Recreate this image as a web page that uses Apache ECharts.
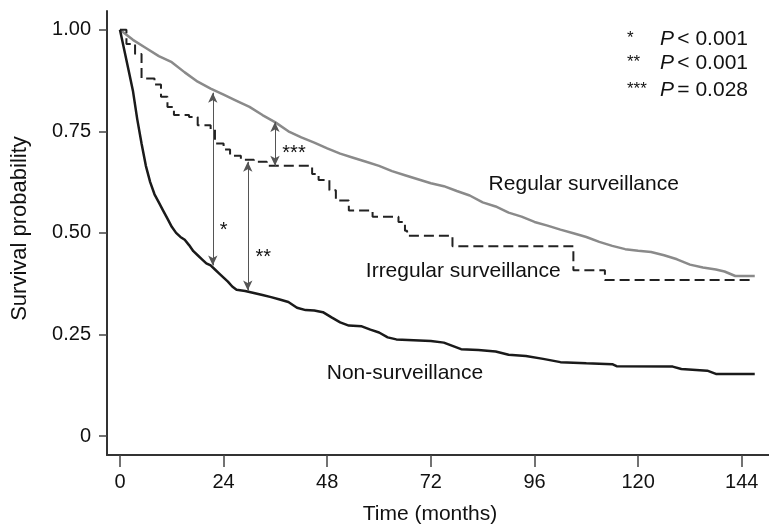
<!DOCTYPE html>
<html lang="en">
<head>
    <meta charset="UTF-8">
    <title>Survival by surveillance</title>
    <script src="https://cdn.jsdelivr.net/npm/echarts@6/dist/echarts.min.js"></script>
    <style>
        html, body { margin: 0; padding: 0; background: #fff; }
        #chart { width: 769px; height: 530px; }
    </style>
</head>
<body>
    <div id="chart"></div>
    <script>
        // x ticks (months) and y ticks
        var xTicks = [0, 24, 48, 72, 96, 120, 144];
        var yTicks = [0, 0.25, 0.5, 0.75, 1];

        // Kaplan-Meier curves: [months, survival]
        var regular = [
            [0, 1.0], [3, 0.975], [6, 0.955], [9, 0.935], [12, 0.92], [15, 0.895], [18, 0.872],
            [21, 0.855], [24, 0.84], [27, 0.825], [30, 0.81], [33, 0.79], [36, 0.772], [39, 0.75],
            [42, 0.735], [45, 0.722], [48, 0.708], [51, 0.695], [54, 0.685], [57, 0.675], [60, 0.665],
            [63, 0.652], [66, 0.642], [69, 0.632], [72, 0.622], [75, 0.615], [78, 0.603], [81, 0.592],
            [84, 0.575], [87, 0.565], [90, 0.55], [93, 0.54], [96, 0.527], [99, 0.518], [102, 0.508],
            [105, 0.499], [108, 0.49], [111, 0.478], [114, 0.468], [117, 0.46], [120, 0.456],
            [123, 0.453], [126, 0.445], [129, 0.435], [132, 0.422], [135, 0.415], [138, 0.41],
            [140, 0.405], [142.5, 0.394], [147, 0.394]
        ];
        var irregular = [
            [0, 1.0], [1.5, 0.965], [3.5, 0.94], [5, 0.88], [8, 0.865], [9.5, 0.835], [11, 0.81],
            [12.5, 0.79], [16, 0.785], [18, 0.765], [21, 0.755], [22, 0.72], [24, 0.705], [25.5, 0.69],
            [28, 0.68], [31, 0.675], [34, 0.665], [44.5, 0.645], [46, 0.63], [48.5, 0.605], [50, 0.58],
            [53, 0.555], [58.5, 0.54], [64.5, 0.527], [66, 0.505], [66.5, 0.493], [77, 0.467],
            [105, 0.408], [112.3, 0.384], [146.5, 0.384]
        ];
        var nonSurv = [
            [0, 1.0], [1, 0.95], [2, 0.9], [3, 0.85], [4, 0.78], [5, 0.72], [6, 0.665], [7, 0.625],
            [8, 0.595], [9, 0.575], [10, 0.555], [11, 0.535], [12, 0.515], [13, 0.5], [14, 0.49],
            [15, 0.483], [16, 0.47], [17, 0.455], [18, 0.445], [19, 0.435], [20, 0.425], [21, 0.42],
            [22, 0.41], [23, 0.4], [24, 0.39], [25, 0.38], [26, 0.368], [27, 0.36], [29, 0.357],
            [31, 0.352], [33, 0.347], [35, 0.342], [37, 0.336], [39, 0.33], [41, 0.316], [43, 0.31],
            [45, 0.309], [47, 0.305], [49, 0.292], [51, 0.28], [53, 0.272], [56, 0.27], [58, 0.262],
            [60, 0.255], [62, 0.243], [64, 0.238], [68, 0.236], [72, 0.234], [75, 0.23], [77, 0.222],
            [79, 0.214], [83, 0.212], [87, 0.208], [90, 0.2], [94, 0.197], [98, 0.19], [102, 0.182],
            [108, 0.179], [114, 0.177], [115, 0.172], [128, 0.171], [130, 0.165], [136, 0.161],
            [138, 0.153], [147, 0.153]
        ];

        // comparison arrows: [month, top, bottom]
        var arrows = [
            [21.5, 0.845, 0.42],
            [29.6, 0.675, 0.358],
            [35.9, 0.773, 0.665]
        ];
        var starMarks = [[24, 0.505, '*'], [33.2, 0.44, '**'], [40.3, 0.695, '***']];
        var curveNames = [
            [107.4, 0.621, 'Regular surveillance'],
            [79.5, 0.406, 'Irregular surveillance'],
            [66, 0.154, 'Non-surveillance']
        ];
        var pRows = [['*', '< 0.001'], ['**', '< 0.001'], ['***', '= 0.028']];

        var font = 'Liberation Sans, Arial, sans-serif';
        var ink = '#111';
        var chart = echarts.init(document.getElementById('chart'));

        var arrowLines = arrows.map(function (a) {
            return [{ coord: [a[0], a[1]] }, { coord: [a[0], a[2]] }];
        });

        var legendGraphics = [];
        pRows.forEach(function (r, i) {
            var yc = [41, 65, 92][i];
            legendGraphics.push({
                type: 'text', left: 627, top: yc - 11,
                style: { text: r[0], font: '17px ' + font, fill: ink }
            });
            legendGraphics.push({
                type: 'text', left: 660, top: yc - 12,
                style: {
                    text: '{p|P} {t|' + r[1] + '}',
                    rich: {
                        p: { font: 'italic 21px ' + font, fill: ink },
                        t: { font: '21px ' + font, fill: ink }
                    }
                }
            });
        });

        // scatter series used only to carry text at data positions
        function textLayer(rows, size) {
            return {
                type: 'scatter', symbolSize: 0, silent: true,
                itemStyle: { opacity: 1, color: 'transparent' },
                data: rows.map(function (s) { return { value: [s[0], s[1]], name: s[2] }; }),
                label: {
                    show: true, position: 'inside', formatter: '{b}',
                    fontFamily: font, fontSize: size, color: ink
                }
            };
        }

        var option = {
            animation: false,
            backgroundColor: '#fff',
            grid: { left: 107, right: 0, top: 11, bottom: 72 },
            xAxis: {
                type: 'value', min: -3, max: 150.3,
                name: 'Time (months)', nameLocation: 'middle', nameGap: 49,
                nameTextStyle: { fontFamily: font, fontSize: 21, color: ink, padding: [0, 16, 0, 0] },
                axisLine: { onZero: false, lineStyle: { color: '#333', width: 2 } },
                axisTick: { show: true, customValues: xTicks, length: 12, lineStyle: { color: '#444', width: 1.5 } },
                axisLabel: { customValues: xTicks, margin: 17, fontFamily: font, fontSize: 20, color: ink },
                splitLine: { show: false }
            },
            yAxis: {
                type: 'value', min: -0.0465, max: 1.046,
                name: 'Survival probability', nameLocation: 'middle', nameGap: 76,
                nameTextStyle: { fontFamily: font, fontSize: 22, color: ink, padding: [0, 0, 0, 9] },
                axisLine: { show: true, onZero: false, lineStyle: { color: '#333', width: 2 } },
                axisTick: { show: true, customValues: yTicks, length: 8, lineStyle: { color: '#444', width: 1.5 } },
                axisLabel: {
                    customValues: yTicks, margin: 16, fontFamily: font, fontSize: 20, color: ink,
                    formatter: function (v) { return v === 0 ? '0' : v.toFixed(2); }
                },
                splitLine: { show: false }
            },
            graphic: legendGraphics,
            series: [
                {
                    name: 'Regular surveillance', type: 'line', data: regular,
                    showSymbol: false, lineStyle: { color: '#8a8a8a', width: 2.5 }, z: 3
                },
                {
                    name: 'Irregular surveillance', type: 'line', step: 'end', data: irregular,
                    showSymbol: false, lineStyle: { color: '#222', width: 2, type: [10, 5] }, z: 3
                },
                {
                    name: 'Non-surveillance', type: 'line', data: nonSurv,
                    showSymbol: false, lineStyle: { color: '#1a1a1a', width: 2.5 }, z: 3,
                    markLine: {
                        silent: true, symbol: ['arrow', 'arrow'], symbolSize: [7, 10],
                        label: { show: false },
                        lineStyle: { color: '#555', width: 1, type: 'solid' },
                        data: arrowLines
                    }
                },
                textLayer(starMarks, 20),
                textLayer(curveNames, 21)
            ]
        };

        chart.setOption(option);
    </script>
</body>
</html>
